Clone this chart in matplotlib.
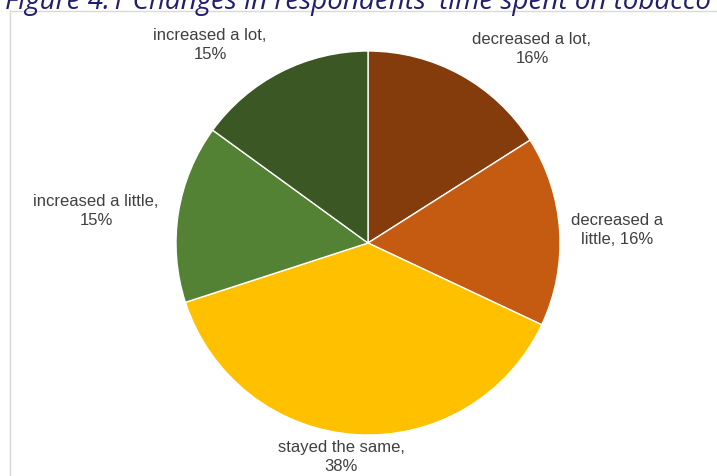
import matplotlib

matplotlib.use("Agg")
import matplotlib.pyplot as plt
from matplotlib.lines import Line2D

# data
categories = [
    "decreased a lot",
    "decreased a little",
    "stayed the same",
    "increased a little",
    "increased a lot",
]
shares = [16, 16, 38, 15, 15]
label_texts = [
    "decreased a lot,\n16%",
    "decreased a\nlittle, 16%",
    "stayed the same,\n38%",
    "increased a little,\n15%",
    "increased a lot,\n15%",
]
colors = ["#843C0C", "#C55A11", "#FFC000", "#548235", "#3A5724"]

# layout (pixels, top-left origin)
W, H = 717, 477
cx, cy, R = 368, 244, 192
label_pos = [(532, 49), (617, 230), (341, 457), (96, 211), (210, 45)]

fig = plt.figure(figsize=(W / 100, H / 100), dpi=100)
ax = fig.add_axes([0, 0, 1, 1])

ax.pie(
    shares,
    colors=colors,
    startangle=90,
    counterclock=False,
    radius=1.0,
    wedgeprops={"edgecolor": "white", "linewidth": 1.0},
)
# pie() resets the limits, so map data units to pixels afterwards
ax.set_xlim(-cx / R, (W - cx) / R)
ax.set_ylim(-(H - cy) / R, cy / R)
ax.set_aspect("equal")
ax.axis("off")

for txt, (px, py) in zip(label_texts, label_pos):
    ax.text(
        (px - cx) / R,
        (cy - py) / R,
        txt,
        ha="center",
        va="center",
        fontsize=12,
        color="#404040",
        family="Liberation Sans",
        linespacing=1.35,
    )

# chart area border (top and left edges visible)
border = "#D9D9D9"
fig.add_artist(Line2D([10 / W, 1], [1 - 12 / H] * 2, color=border, lw=1,
                      transform=fig.transFigure))
fig.add_artist(Line2D([10 / W] * 2, [0, 1 - 12 / H], color=border, lw=1,
                      transform=fig.transFigure))

fig.text(
    5 / W,
    1 - 9 / H,
    "Figure 4.1 Changes in respondents' time spent on tobacco",
    ha="left",
    va="baseline",
    fontsize=20,
    style="italic",
    color="#1F1F6E",
    family="Open Sans",
)

fig.savefig("out.png", dpi=100)
